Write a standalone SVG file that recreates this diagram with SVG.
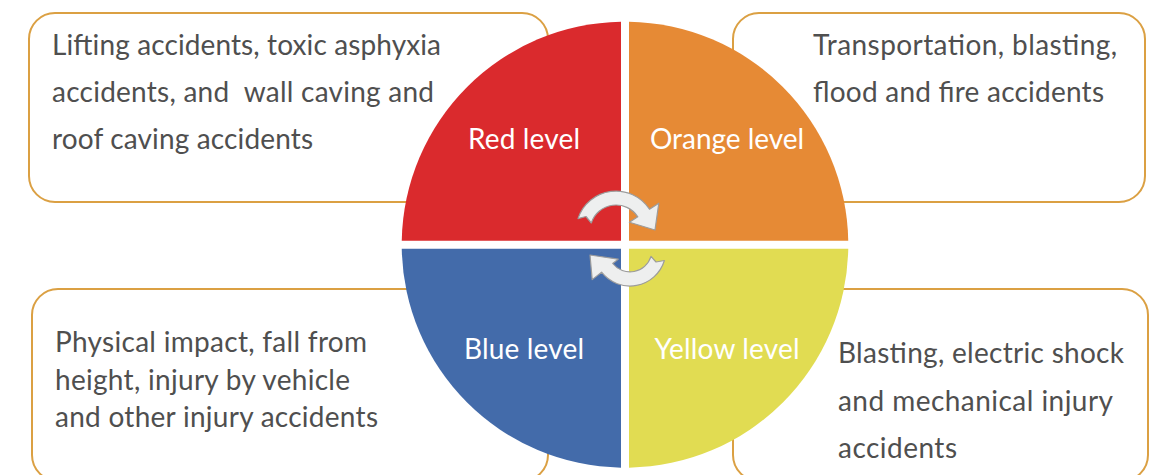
<svg xmlns="http://www.w3.org/2000/svg" width="1158" height="475" viewBox="0 0 1158 475">
<style>
.box{fill:#fff;stroke:#DBA043;stroke-width:2}
.t{font-family:Lato,"Liberation Sans",sans-serif;font-size:28px;fill:#4F4F4F}
.lbl{font-family:Lato,"Liberation Sans",sans-serif;font-size:28px;fill:#fff;text-anchor:middle}
.arr{fill:#EEEFEF;stroke:#9C9C9C;stroke-width:1.2;stroke-linejoin:round}
</style>
<rect width="1158" height="475" fill="#fff"/>
<g id="box-red">
<rect class="box" x="29" y="13" width="519" height="189" rx="26"/>
<text class="t" x="52" y="55" textLength="389" lengthAdjust="spacing">Lifting accidents, toxic asphyxia</text>
<text class="t" x="52" y="102" textLength="382" lengthAdjust="spacing" xml:space="preserve">accidents, and  wall caving and</text>
<text class="t" x="52" y="149" textLength="261" lengthAdjust="spacing">roof caving accidents</text>
</g>
<g id="box-orange">
<rect class="box" x="733" y="13" width="412" height="189" rx="26"/>
<text class="t" x="813" y="55" textLength="304" lengthAdjust="spacing">Transportation, blasting,</text>
<text class="t" x="813" y="102" textLength="291" lengthAdjust="spacing">flood and fire accidents</text>
</g>
<g id="box-blue">
<rect class="box" x="32" y="289" width="516" height="192" rx="26"/>
<text class="t" x="55" y="352" textLength="312" lengthAdjust="spacing">Physical impact, fall from</text>
<text class="t" x="55" y="390" textLength="295" lengthAdjust="spacing">height, injury by vehicle</text>
<text class="t" x="55" y="427" textLength="323" lengthAdjust="spacing">and other injury accidents</text>
</g>
<g id="box-yellow">
<rect class="box" x="733" y="289" width="415" height="192" rx="26"/>
<text class="t" x="838" y="363" textLength="286" lengthAdjust="spacing">Blasting, electric shock</text>
<text class="t" x="838" y="411" textLength="275" lengthAdjust="spacing">and mechanical injury</text>
<text class="t" x="838" y="458" textLength="119" lengthAdjust="spacing">accidents</text>
</g>
<g id="red-level">
<path d="M621,240.7 L621,21.74 A223 223 0 0 0 401.74,240.7 Z" fill="#DA2A2D"/>
<text class="lbl" x="524" y="149" textLength="112" lengthAdjust="spacing">Red level</text>
</g>
<g id="orange-level">
<path d="M629,240.7 L629,21.74 A223 223 0 0 1 848.26,240.7 Z" fill="#E68A35"/>
<text class="lbl" x="727" y="149" textLength="154" lengthAdjust="spacing">Orange level</text>
</g>
<g id="blue-level">
<path d="M621,248.7 L621,467.66 A223 223 0 0 1 401.74,248.7 Z" fill="#436BAA"/>
<text class="lbl" x="524" y="359" textLength="120" lengthAdjust="spacing">Blue level</text>
</g>
<g id="yellow-level">
<path d="M629,248.7 L629,467.66 A223 223 0 0 0 848.26,248.7 Z" fill="#E1DC52"/>
<text class="lbl" x="727" y="359" textLength="145" lengthAdjust="spacing">Yellow level</text>
</g>
<g id="connectors">
<path class="arr" d="M578,218.6 A40 40 0 0 1 649.5,209.2 L658.8,203.2 L655,230 L629.4,222.3 L637.8,216.8 A26 26 0 0 0 591.3,223 L586,216.5 Z"/>
<path class="arr" d="M664.4,260.5 A36 36 0 0 1 601.6,272.2 L592.2,279.6 L590,255 L618.2,259.2 L612.7,263.5 A22 22 0 0 0 651,256.4 L656,262 Z"/>
</g>
</svg>
